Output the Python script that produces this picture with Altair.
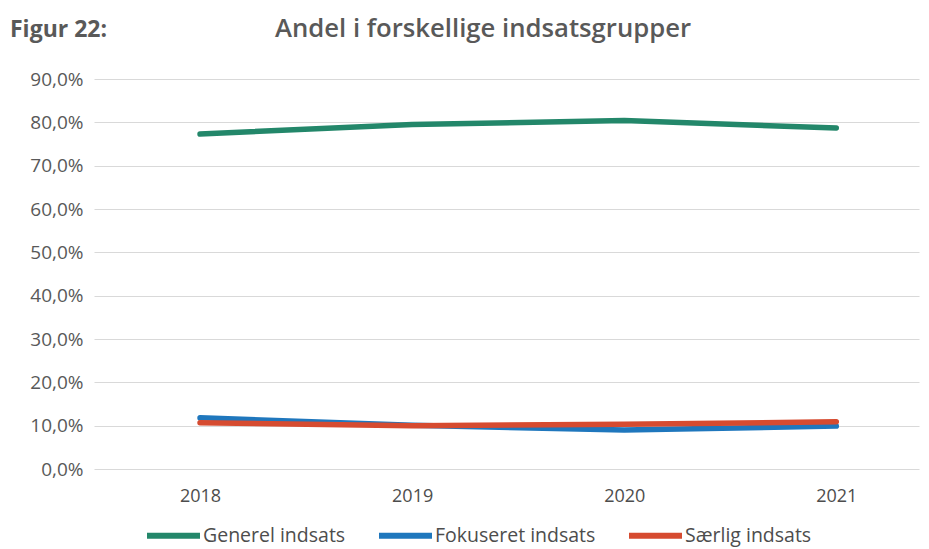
import altair as alt
import pandas as pd

years = [2018, 2019, 2020, 2021]
generel = [77.3, 79.5, 80.4, 78.7]
fokuseret = [11.8, 10.1, 9.0, 9.9]
saerlig = [10.7, 10.0, 10.3, 10.9]
series_names = ["Generel indsats", "Fokuseret indsats", "Særlig indsats"]
series_colors = ["#23876a", "#1f77bd", "#d64b30"]
y_ticks = [0, 10, 20, 30, 40, 50, 60, 70, 80, 90]
fig_label = "Figur 22:"
fig_title = "Andel i forskellige indsatsgrupper"

rows = []
for name, vals in zip(series_names, [generel, fokuseret, saerlig]):
    for yr, v in zip(years, vals):
        rows.append({"year": yr, "value": v, "series": name})
df = pd.DataFrame(rows)

W, H = 825, 390
FONT = "Open Sans"

lines = alt.Chart(df).mark_line(strokeWidth=5.5, strokeCap="round", strokeJoin="round").encode(
    x=alt.X("year:Q",
            scale=alt.Scale(domain=[2017.5, 2021.39], nice=False, zero=False),
            axis=alt.Axis(values=years, format="d", title=None, grid=False, domain=False,
                          ticks=False, labelFont=FONT, labelFontSize=18, labelColor="#4d4d4d",
                          labelPadding=18)),
    y=alt.Y("value:Q",
            scale=alt.Scale(domain=[0, 90], nice=False),
            axis=alt.Axis(values=y_ticks, title=None, domain=False, ticks=False,
                          labelExpr="replace(format(datum.value, '.1f'), '.', ',') + '%'",
                          labelFont=FONT, labelFontSize=19, labelColor="#595959",
                          labelPadding=11, gridColor="#d9d9d9", gridWidth=1.2)),
    color=alt.Color("series:N",
                    scale=alt.Scale(domain=series_names, range=series_colors),
                    sort=series_names,
                    legend=alt.Legend(title=None, orient="none", direction="horizontal",
                                      legendX=50, legendY=427, symbolType="stroke",
                                      symbolSize=2809, symbolStrokeWidth=6,
                                      labelFont=FONT, labelFontSize=19.5, labelColor="#4d4d4d",
                                      labelOffset=0, columnPadding=21, columns=3,
                                      labelLimit=300)),
)

t1 = alt.Chart(pd.DataFrame({"t": [fig_label]})).mark_text(
    font=FONT, fontSize=23, fontWeight="bold", color="#595959", align="left", baseline="alphabetic"
).encode(x=alt.value(-84), y=alt.value(-42), text="t:N")

t2 = alt.Chart(pd.DataFrame({"t": [fig_title]})).mark_text(
    font=FONT, fontSize=25.7, fontWeight=600, color="#595959", align="left", baseline="alphabetic"
).encode(x=alt.value(181), y=alt.value(-42), text="t:N")

chart = alt.layer(lines, t1, t2).properties(
    width=W, height=H,
    background="white",
    autosize=alt.AutoSizeParams(type="none"),
    padding={"left": 86, "top": 71, "right": 2, "bottom": 80},
).configure_view(stroke=None)

chart.save("out.html", embed_options={"renderer": "svg", "actions": False})
